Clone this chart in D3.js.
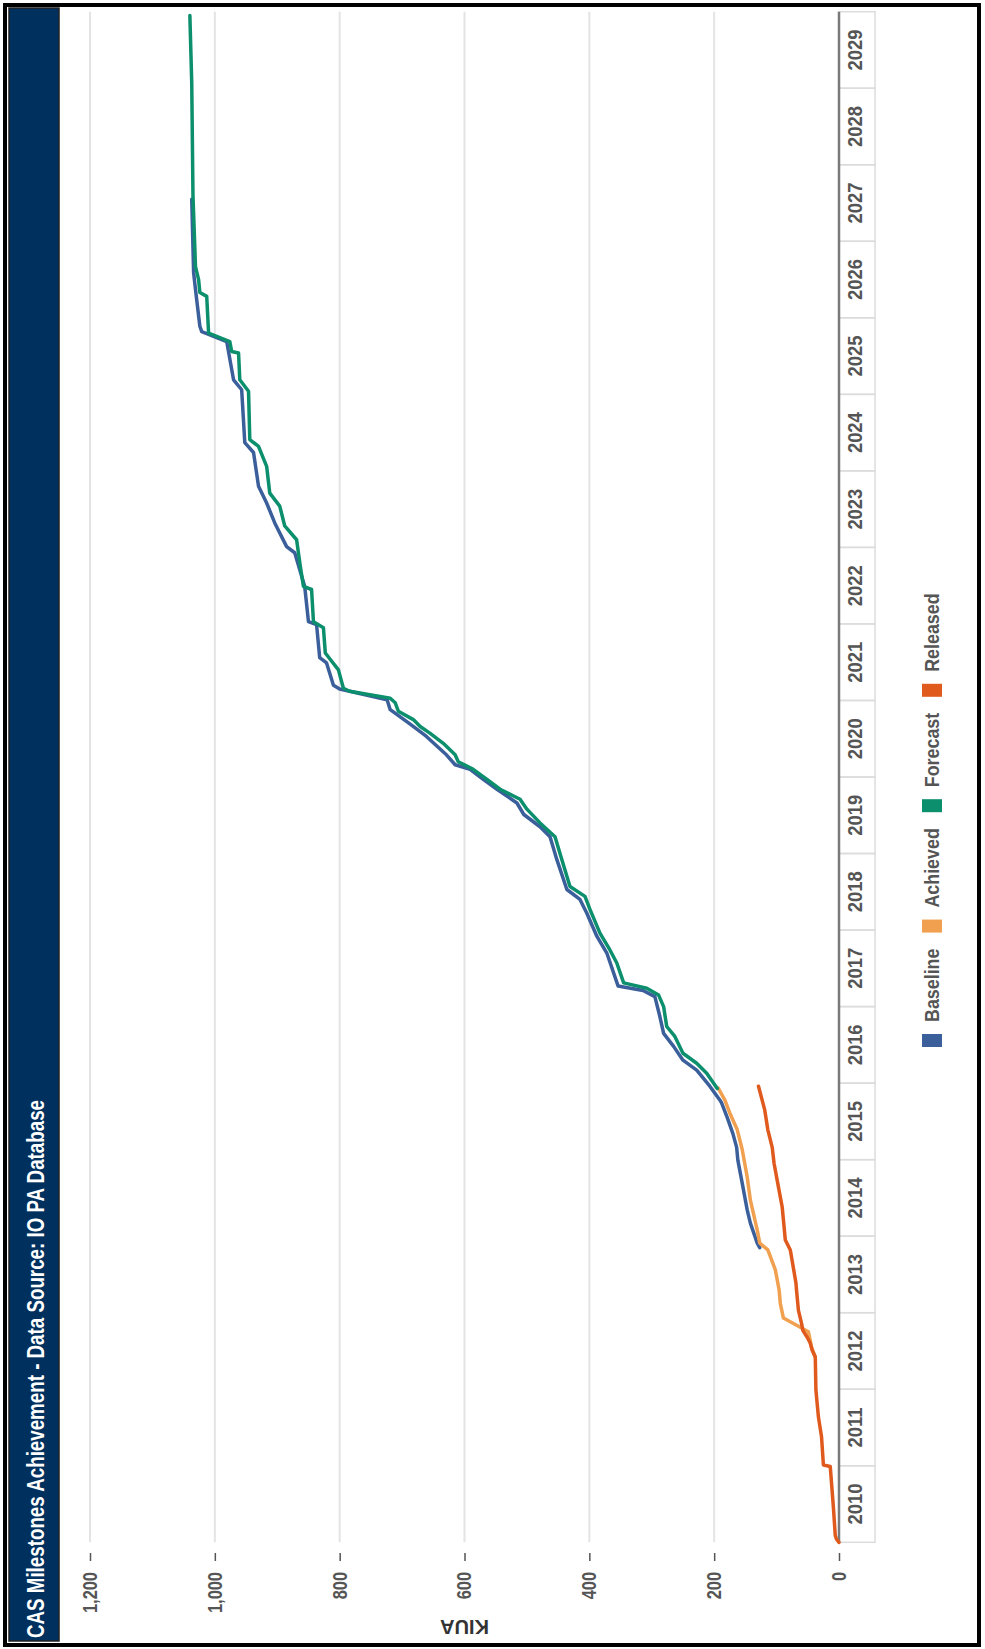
<!DOCTYPE html>
<html>
<head>
<meta charset="utf-8">
<script src="https://cdn.jsdelivr.net/npm/d3@7"></script>
<style>
  body { margin: 0; background: #fff; }
  svg text { font-family: "Liberation Sans", Arial, sans-serif; }
</style>
</head>
<body>
<svg id="chart" width="985" height="1649"></svg>
<script>
// ---- data ----
var titleText = "CAS Milestones Achievement - Data Source: IO PA Database"
var axisTitle = "KIUA"
var years = [2010,2011,2012,2013,2014,2015,2016,2017,2018,2019,2020,2021,2022,2023,2024,2025,2026,2027,2028,2029]
var valueTicks = [0,200,400,600,800,1000,1200]
var seriesNames = ["Baseline","Achieved","Forecast","Released"]
var seriesColors = ["#3a5f9a","#f0a04e","#0c8f6d","#e0591d"]

// [year, KIUA]
var baseline = [[2013.85,127],[2013.91,131],[2014.17,142],[2014.34,147],[2014.69,155],[2014.99,162],[2015.16,164],[2015.34,170],[2015.55,179],[2015.74,188],[2015.78,191],[2015.96,207],[2016.17,228],[2016.30,250],[2016.48,265],[2016.65,281],[2016.87,287],[2017.13,295],[2017.21,314],[2017.27,354],[2017.70,372],[2017.92,388],[2018.22,404],[2018.40,415],[2018.53,436],[2018.92,452],[2019.22,463],[2019.35,479],[2019.51,505],[2019.66,516],[2019.84,548],[2019.97,570],[2020.10,591],[2020.16,615],[2020.29,629],[2020.53,661],[2020.69,687],[2020.88,719],[2021.01,724],[2021.15,800],[2021.20,810],[2021.49,821],[2021.56,832],[2021.99,837],[2022.03,850],[2022.49,856],[2022.93,872],[2023.01,885],[2023.32,904],[2023.58,917],[2023.80,930],[2024.24,938],[2024.37,952],[2025.06,957],[2025.19,970],[2025.69,981],[2025.82,1021],[2025.89,1024],[2026.37,1031],[2026.59,1034],[2027.55,1037]]
var achieved = [[2012.42,38],[2012.55,44],[2012.75,49],[2012.93,89],[2013.12,94],[2013.30,96],[2013.56,102],[2013.82,114],[2013.91,127],[2014.08,131],[2014.47,142],[2014.77,147],[2015.13,155],[2015.39,163],[2015.61,175],[2015.78,183],[2015.94,194]]
var forecast = [[2015.93,195],[2016.13,212],[2016.26,228],[2016.39,250],[2016.61,263],[2016.74,276],[2017.00,281],[2017.15,289],[2017.24,308],[2017.31,345],[2017.57,356],[2017.74,367],[2017.96,383],[2018.27,399],[2018.44,407],[2018.57,431],[2018.92,444],[2019.22,455],[2019.40,479],[2019.58,500],[2019.71,511],[2019.84,543],[2019.97,564],[2020.10,586],[2020.20,610],[2020.29,615],[2020.44,634],[2020.57,655],[2020.66,671],[2020.75,682],[2020.86,706],[2020.97,711],[2021.03,719],[2021.12,784],[2021.16,794],[2021.40,802],[2021.62,823],[2021.95,826],[2022.03,842],[2022.45,845],[2022.49,858],[2022.75,863],[2023.10,869],[2023.28,888],[2023.54,896],[2023.71,912],[2024.06,917],[2024.32,930],[2024.41,944],[2025.04,946],[2025.19,960],[2025.54,962],[2025.56,973],[2025.69,976],[2025.80,1010],[2026.28,1013],[2026.33,1024],[2026.50,1026],[2026.67,1031],[2027.59,1035],[2029.07,1037],[2029.95,1040]]
var released = [[2010.00,0],[2010.04,4],[2010.09,6],[2010.46,9],[2010.99,14],[2011.01,25],[2011.38,28],[2011.64,33],[2011.99,37],[2012.42,38],[2012.51,43],[2012.60,46],[2012.68,51],[2012.77,58],[2012.86,60],[2013.03,65],[2013.29,68],[2013.39,69],[2013.82,78],[2013.95,86],[2014.38,91],[2014.73,99],[2014.95,104],[2015.16,107],[2015.39,114],[2015.65,119],[2015.96,129]]

var allSeries = [baseline, achieved, forecast, released]

// no narrow font installed, so squeeze the text like Arial Narrow
function narrow(sel, k) {
    sel.each(function() {
        var w = this.getComputedTextLength()
        d3.select(this).attr("textLength", w * k).attr("lengthAdjust", "spacingAndGlyphs")
    })
}

var svg = d3.select("#chart")

// outer frame
svg.append("rect")
    .attr("x",5).attr("y",5).attr("width",974).attr("height",1640)
    .attr("fill","none").attr("stroke","#000").attr("stroke-width",4)

// title bar
svg.append("rect")
    .attr("x",9).attr("y",8).attr("width",50).attr("height",1633)
    .attr("fill","#00305e").attr("stroke","#222").attr("stroke-width",1.5)

// the chart is drawn upright and turned a quarter turn to the left
var g = svg.append("g").attr("transform","translate(0,1649) rotate(-90)")

g.append("text")
    .attr("x",11).attr("y",44)
    .attr("fill","#fff")
    .attr("font-size",24)
    .attr("font-weight","bold")
    .attr("textLength",538)
    .attr("lengthAdjust","spacingAndGlyphs")
    .text(titleText)

var x = d3.scaleLinear().domain([2010,2030]).range([106.7,1637.3])
var y = d3.scaleLinear().domain([0,1200]).range([839,90])

// gridlines
g.append("g")
    .selectAll("line")
    .data(valueTicks.filter(d => d > 0))
    .enter()
    .append("line")
    .attr("x1",x(2010)).attr("x2",x(2030))
    .attr("y1",d => y(d)).attr("y2",d => y(d))
    .attr("stroke","#e4e4e4").attr("stroke-width",2)

// value axis
var yAxis = g.append("g")
    .attr("transform","translate(96,0)")
    .call(d3.axisLeft(y).tickValues(valueTicks).tickFormat(d3.format(",")).tickSize(8).tickPadding(11))
yAxis.attr("font-family",null)
yAxis.select(".domain").remove()
yAxis.selectAll("line").attr("stroke","#555").attr("stroke-width",1.5)
yAxis.selectAll("text")
    .attr("fill","#555").attr("font-size",20).attr("font-weight","bold")
narrow(yAxis.selectAll("text"), 0.82)

g.append("text")
    .attr("transform","translate(29," + ((y(0)+y(1200))/2) + ") rotate(-90)")
    .attr("text-anchor","middle")
    .attr("fill","#333").attr("font-size",20).attr("font-weight","bold")
    .text(axisTitle)

// year bands
var bands = g.append("g")
bands.selectAll("rect")
    .data(years)
    .enter()
    .append("rect")
    .attr("x",d => x(d)).attr("y",839)
    .attr("width",d => x(d+1)-x(d)).attr("height",36)
    .attr("fill","none").attr("stroke","#dcdcdc").attr("stroke-width",1.5)
var yearText = bands.selectAll("text")
    .data(years)
    .enter()
    .append("text")
    .attr("x",d => (x(d)+x(d+1))/2).attr("y",862)
    .attr("text-anchor","middle")
    .attr("fill","#555").attr("font-size",20).attr("font-weight","bold")
    .text(d => d)
narrow(yearText, 0.92)
g.append("line")
    .attr("x1",x(2010)).attr("x2",x(2030))
    .attr("y1",y(0)).attr("y2",y(0))
    .attr("stroke","#7a7a7a").attr("stroke-width",2.5)

// series lines
var line = d3.line().x(d => x(d[0])).y(d => y(d[1]))
g.append("g")
    .selectAll("path")
    .data(allSeries)
    .enter()
    .append("path")
    .attr("d",line)
    .attr("fill","none")
    .attr("stroke",(d,i) => seriesColors[i])
    .attr("stroke-width",3.5)
    .attr("stroke-linejoin","round")
    .attr("stroke-linecap","round")

// legend
var legend = g.append("g")
var lx = 602
seriesNames.forEach(function(name,i) {
    legend.append("rect")
        .attr("x",lx).attr("y",922).attr("width",13).attr("height",20)
        .attr("fill",seriesColors[i])
    var t = legend.append("text")
        .attr("x",lx+25).attr("y",939)
        .attr("fill","#555").attr("font-size",21).attr("font-weight","bold")
        .text(name)
    var w = t.node().getComputedTextLength() * 0.85
    t.attr("textLength", w).attr("lengthAdjust","spacingAndGlyphs")
    lx = lx + 25 + w + 16
})
</script>
</body>
</html>
